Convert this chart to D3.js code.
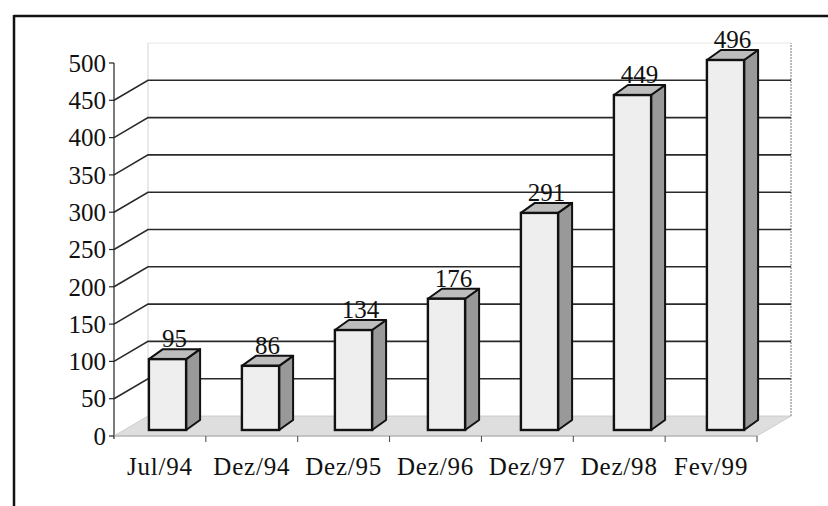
<!DOCTYPE html>
<html>
<head>
<meta charset="utf-8">
<script src="https://cdn.jsdelivr.net/npm/d3@7"></script>
<style>
  html, body { margin: 0; padding: 0; background: #fff; }
  svg { display: block; }
  text { font-family: "Liberation Serif", "Times New Roman", serif; fill: #111; }
</style>
</head>
<body>
<script>
const categories = ["Jul/94", "Dez/94", "Dez/95", "Dez/96", "Dez/97", "Dez/98", "Fev/99"];
const values = [95, 86, 134, 176, 291, 449, 496];
const yTickValues = [0, 50, 100, 150, 200, 250, 300, 350, 400, 450, 500];

const W = 828, H = 506;
const svg = d3.select("body").append("svg").attr("width", W).attr("height", H);

// projection constants
const axisX = 114, floorRight = 757;
const depth = [34, -20];        // full depth of floor / walls
const barFront = [10, -6];      // offset of bar front faces
const barDepth = [14, -10];     // depth of the bars themselves

const y = d3.scaleLinear().domain([0, 500]).range([436, 63]);
const xCat = d3.scaleBand().domain(categories).range([axisX, floorRight]);
const xBar = d3.scaleBand().domain(categories).range([121, 772]).paddingInner(0.6).paddingOuter(0.3);

// frame
svg.append("line").attr("x1", 14).attr("y1", 16).attr("x2", W).attr("y2", 16)
  .attr("stroke", "#111").attr("stroke-width", 2.5);
svg.append("line").attr("x1", 14).attr("y1", 15).attr("x2", 14).attr("y2", H)
  .attr("stroke", "#111").attr("stroke-width", 2.5);

// floor
const y0 = y(0);
svg.append("polygon")
  .attr("points", [[axisX, y0], [floorRight, y0], [floorRight + depth[0], y0 + depth[1]], [axisX + depth[0], y0 + depth[1]]].map(p => p.join(",")).join(" "))
  .attr("fill", "#dedede").attr("stroke", "#c4c4c4").attr("stroke-width", 0.8);

// back wall left edge and right edge
svg.append("line")
  .attr("x1", axisX + depth[0]).attr("y1", y(0) + depth[1])
  .attr("x2", axisX + depth[0]).attr("y2", y(500) + depth[1])
  .attr("stroke", "#d4d4d4").attr("stroke-width", 1);
svg.append("line")
  .attr("x1", floorRight + depth[0]).attr("y1", y(0) + depth[1])
  .attr("x2", floorRight + depth[0]).attr("y2", y(500) + depth[1])
  .attr("stroke", "#777").attr("stroke-width", 1).attr("stroke-dasharray", "2,1");

// gridlines
const grid = svg.append("g");
yTickValues.filter(v => v > 0).forEach(v => {
  const top = v === 500;
  grid.append("path")
    .attr("d", top
      ? `M${axisX + depth[0]},${y(v) + depth[1]}L${floorRight + depth[0]},${y(v) + depth[1]}`
      : `M${axisX},${y(v)}L${axisX + depth[0]},${y(v) + depth[1]}L${floorRight + depth[0]},${y(v) + depth[1]}`)
    .attr("fill", "none")
    .attr("stroke", top ? "#e6e6e6" : "#2a2a2a")
    .attr("stroke-width", top ? 1 : 1.6);
});

// y axis
const yAxis = svg.append("g");
yAxis.append("line").attr("x1", axisX).attr("x2", axisX).attr("y1", y(0) + 3).attr("y2", y(500))
  .attr("stroke", "#222").attr("stroke-width", 1.2);
yTickValues.forEach(v => {
  yAxis.append("line").attr("x1", axisX - 5).attr("x2", axisX).attr("y1", y(v)).attr("y2", y(v))
    .attr("stroke", "#222").attr("stroke-width", 1.2);
  yAxis.append("text").attr("x", 106).attr("y", y(v)).attr("dy", "0.35em")
    .attr("text-anchor", "end").attr("font-size", 25).text(v);
});

// x axis (front floor edge)
const xAxis = svg.append("g");
xAxis.append("line").attr("x1", axisX).attr("x2", floorRight).attr("y1", y0).attr("y2", y0)
  .attr("stroke", "#aaa").attr("stroke-width", 1);
categories.forEach(c => {
  const bx = xCat(c) + xCat.bandwidth();
  xAxis.append("line").attr("x1", bx).attr("x2", bx).attr("y1", y0).attr("y2", y0 + 6)
    .attr("stroke", "#444").attr("stroke-width", 1);
  xAxis.append("text").attr("x", xCat(c) + xCat.bandwidth() / 2).attr("y", 475)
    .attr("text-anchor", "middle").attr("font-size", 25).attr("letter-spacing", 0.8).text(c);
});

// bars
const bars = svg.append("g");
categories.forEach((c, i) => {
  const v = values[i];
  const xl = xBar(c), bw = xBar.bandwidth();
  const yt = y(v) + barFront[1], yb = y(0) + barFront[1];
  const dx = barDepth[0], dy = barDepth[1];
  // side face
  bars.append("polygon")
    .attr("points", [[xl + bw, yt], [xl + bw + dx, yt + dy], [xl + bw + dx, yb + dy], [xl + bw, yb]].map(p => p.join(",")).join(" "))
    .attr("fill", "#999").attr("stroke", "#111").attr("stroke-width", 2).attr("stroke-linejoin", "round");
  // top face
  bars.append("polygon")
    .attr("points", [[xl, yt], [xl + bw, yt], [xl + bw + dx, yt + dy], [xl + dx, yt + dy]].map(p => p.join(",")).join(" "))
    .attr("fill", "#bdbdbd").attr("stroke", "#111").attr("stroke-width", 2).attr("stroke-linejoin", "round");
  // front face
  bars.append("rect")
    .attr("x", xl).attr("y", yt).attr("width", bw).attr("height", yb - yt)
    .attr("fill", "#eeeeee").attr("stroke", "#111").attr("stroke-width", 2.4);
  // value label
  bars.append("text")
    .attr("x", xl + (bw + dx) / 2).attr("y", yt + dy - 2)
    .attr("text-anchor", "middle").attr("font-size", 25).text(v);
});
</script>
</body>
</html>
